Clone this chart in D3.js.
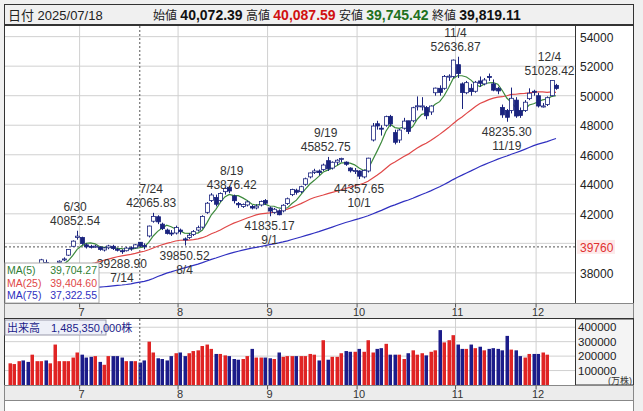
<!DOCTYPE html><html><head><meta charset="utf-8"><script src="https://cdn.jsdelivr.net/npm/d3@7"></script>
<style>body{margin:0;background:#fff}svg{font-family:"Liberation Sans","Noto Sans CJK JP",sans-serif}</style></head><body><svg id="c" width="643" height="411"></svg>
<script>
const months=[["06",16],["07",22],["08",20],["09",20],["10",22],["11",18],["12",5]];
const priorCloses=[37400,37700,38000,37900,38100,37400,37000,36900,36800,37000,37050,37800,37700,37600,37400,37750,37700,37900,37850,37600,37800,37750,37100,37200,37600,37100,36100,35620,35700,35725,34735,33780,31136,33012,31714,34609,33585,33982,34267,33920,34377,34730,34280,34220,35039,35705,35840,36045,36452,36831,36780,36928,37503,37644,38183,38643,38128,37755,37753,37498,37529,37299,37160,36985,37531,37724,37722,38432,37965,37470,37446,37747,37554,37741];
const open=[37900,38150,38300,38350,37900,37900,38450,38600,38700,38400,38300,38700,38900,39200,39800,40400,
40400,39900,39800,39750,39750,39550,39700,39800,39600,39500,39500,39700,39700,40072.39,39850,40500,41500,41800,41300,40900,40700,40700,
40900,40300,40400,40600,40900,41100,42100,42900,43100,42900,43500,43800,43200,42700,42500,42600,42500,42400,42600,42900,
42400,42100,42200,42200,42700,43300,43600,43500,44000,44500,44800,44900,45000,45600,45100,45500,45700,45500,45100,44900,
44900,44500,44900,47000,48100,47800,48000,48600,47500,47000,47800,48300,48300,49300,49300,49200,48900,50200,50500,50500,51300,51300,
52100,50800,50200,50500,50300,51000,50800,51300,50800,50500,49200,49000,49000,49700,49000,49000,49800,50300,
50000,49300,49400,50000,50700];
const high=[38300,38350,38500,38450,38000,38350,38600,38950,38900,38550,38500,38850,39050,39600,40200,40852.54,
40450,40000,39900,39900,39800,39750,39900,39900,39700,39600,39750,39800,39950,40087.59,40000,41200,42065.83,41900,41400,41000,40900,41200,
41000,40400,40700,40900,41200,41900,42800,43400,43300,43450,43800,43876.42,43300,42800,42700,42900,42600,42650,42900,43000,
42500,42400,42300,42650,43100,43700,43700,43900,44450,44800,45050,45000,45400,45852.75,45550,45700,45800,45550,45150,45100,
44950,45000,45800,48150,48300,48000,48650,48700,47700,47750,48500,48300,49250,49950,49900,49300,49350,50550,50700,51400,51450,52450,
52636.87,50900,51000,50800,51000,51300,51200,51500,51100,50600,49400,49100,50550,49900,49200,49700,50500,50400,
50200,49500,49950,51028.42,50800];
const low=[37800,38000,38250,38100,37550,37850,38350,38550,38400,38300,38100,38650,38800,39150,39750,40250,
39900,39650,39650,39700,39500,39450,39600,39550,39450,39288.90,39450,39500,39650,39745.42,39600,40400,41400,41300,40900,40600,40500,40600,
40600,39850.52,40300,40500,40800,41000,42000,42800,42500,42800,43300,43400,42700,42400,42400,42500,42300,42300,42500,42600,
41835.17,42000,41900,42100,42600,43200,43300,43400,43900,44400,44700,44600,44900,44900,45000,45300,45500,45250,44800,44700,
44357.65,44400,44800,46900,47700,47300,47900,47900,46700,46800,47700,47400,48200,49000,49000,48400,48700,50000,50000,50400,51000,51200,
51200,49100,50100,50000,50200,50600,50700,51000,50300,50100,48500,48235.30,48800,48500,48500,48900,49700,50000,
49200,49200,49300,49950,50400];
const close=[38088,38211,38421,38173,37834,38311,38536,38885,38488,38403,38354,38790,38942,39584,40150,40487,
39986,39762,39785,39810,39587,39688,39821,39646,39569,39459,39678,39663,39901,39819.11,39774,41171,41826,41456,40998,40674,40654,41069,
40799,40290,40549,40794,41059,41820,42718,43274,42649,43378,43714,43546,42888,42610,42633,42807,42394,42520,42828,42718,
42188,42310,41938,42580,43018,43643,43459,43837,44372,44768,44902,44790,45303,45045,45493,45630,45754,45354,44913,44932,
44550,44936,45769,47944,47950,47734,48580,48088,46847,47672,48277,47582,49185,49316,49307,48641,49299,50512,50219,51307,51325,52411,
51497,50212,50883,50276,50911,50842,51063,51281,50376,50323,48702,48537,49823,48625,48659,49559,50167,50253,
49303,49303,49864,51028,50491];
const volume=[150,145,165,170,160,210,165,165,170,150,280,165,165,165,190,225,
210,190,195,200,160,140,200,200,200,190,165,165,165,155,170,300,225,185,180,170,200,220,
225,200,220,235,240,270,280,250,215,215,205,200,180,175,180,200,250,190,190,190,
185,180,225,195,200,200,200,200,200,215,210,170,310,175,195,195,220,235,230,230,250,230,
310,225,250,255,285,210,210,210,180,220,240,210,220,205,230,240,380,295,310,345,280,250,
250,280,255,265,240,250,255,250,240,340,245,240,200,190,215,215,215,225,210].map(v=>v*1000);
const annHigh=[[15,"6/30","40852.54"],[32,"7/24","42065.83"],[50,"8/19","43876.42"],[71,"9/19","45852.75"],[100,"11/4","52636.87"],[121,"12/4","51028.42"]];
const annLow=[[25,"7/14","39288.90"],[39,"8/4","39850.52"],[58,"9/1","41835.17"],[78,"10/1","44357.65"],[111,"11/19","48235.30"]];
const priceTicks=[38000,40000,42000,44000,46000,48000,50000,52000,54000];
const volTicks=[100000,200000,300000,400000];
const monthLabels=["7","8","9","10","11","12"];

const svg=d3.select("#c");
const n=close.length;
const x=d3.scaleLinear().domain([0,n-1]).range([10,556]);
const y=d3.scaleLinear().domain([35960,54720]).range([303,26]);
const yv=d3.scaleLinear().domain([0,450000]).range([385,320]);
const all=priorCloses.concat(close);
const ma=(p)=>close.map((c,i)=>{const j=i+priorCloses.length;return d3.mean(all.slice(Math.max(0,j-p+1),j+1));});
const ma5=ma(5),ma25=ma(25),ma75=ma(75);
const mStart=[];let acc=0;months.forEach((m,k)=>{if(k>0)mStart.push(acc);acc+=m[1];});

svg.append("rect").attr("width",643).attr("height",411).attr("fill","#f0f0f0");
svg.append("rect").attr("x",4.5).attr("y",4.5).attr("width",629).attr("height",20).attr("fill","#f0f0f0").attr("stroke","#333");
svg.append("text").attr("x",8).attr("y",20).attr("font-size",13).attr("fill","#222").text("日付 2025/07/18");
const hv=[["始値 ","40,072.39","#111"],[" 高値 ","40,087.59","#d01010"],[" 安値 ","39,745.42","#207020"],[" 終値 ","39,819.11","#111"]];
const h2=svg.append("text").attr("x",153).attr("y",20).attr("font-size",13);
hv.forEach(d=>{h2.append("tspan").attr("fill","#222").attr("font-size",12).text(d[0]);h2.append("tspan").attr("fill",d[2]).attr("font-weight","bold").attr("font-size",14).text(d[1]);});
svg.append("rect").attr("x",4.5).attr("y",25.5).attr("width",629).attr("height",278).attr("fill","#fff").attr("stroke","#333");
const g=svg.append("g");
priceTicks.forEach(t=>g.append("line").attr("x1",5).attr("x2",575).attr("y1",y(t)).attr("y2",y(t)).attr("stroke","#d0d0d0"));
mStart.forEach(i=>g.append("line").attr("x1",x(i)-2).attr("x2",x(i)-2).attr("y1",26).attr("y2",303).attr("stroke","#d0d0d0"));
g.append("line").attr("x1",575.5).attr("x2",575.5).attr("y1",26).attr("y2",303).attr("stroke","#333");
priceTicks.filter(t=>t!==40000).forEach(t=>g.append("text").attr("x",580).attr("y",y(t)+5).attr("font-size",12).attr("fill","#222").text(t));
g.append("line").attr("x1",5).attr("x2",575).attr("y1",y(39760)).attr("y2",y(39760)).attr("stroke","#555").attr("stroke-dasharray","2,2");
g.append("rect").attr("x",577).attr("y",y(39760)-7).attr("width",38).attr("height",14).attr("fill","#fdeaea");
g.append("text").attr("x",580).attr("y",y(39760)+5).attr("font-size",12).attr("fill","#e03030").text("39760");
g.append("line").attr("x1",x(29)).attr("x2",x(29)).attr("y1",26).attr("y2",303).attr("stroke","#555").attr("stroke-dasharray","2,2");
const line=d3.line().x((d,i)=>x(i)).y(d=>y(d));
[[ma75,"#3030c0"],[ma25,"#e04848"],[ma5,"#3d8a3d"]].forEach(([d,c])=>g.append("path").attr("d",line(d)).attr("fill","none").attr("stroke",c).attr("stroke-width",1.2));
close.forEach((c,i)=>{const o=open[i],up=c>=o;const cx=Math.round(x(i))+0.5;
g.append("line").attr("x1",cx).attr("x2",cx).attr("y1",y(high[i])).attr("y2",y(low[i])).attr("stroke","#1a237e");
const t=y(Math.max(o,c)),b=y(Math.min(o,c));
g.append("rect").attr("x",cx-2).attr("y",t).attr("width",4).attr("height",Math.max(1,b-t)).attr("fill",up?"#fff":"#1a237e").attr("stroke","#1a237e").attr("stroke-width",0.8);});
annHigh.forEach(([i,d,v])=>{const yy=y(high[i]);
g.append("text").attr("x",x(i)-2).attr("y",yy-20).attr("text-anchor","middle").attr("font-size",12).attr("fill","#333").text(d);
g.append("text").attr("x",x(i)-2).attr("y",yy-6).attr("text-anchor","middle").attr("font-size",12).attr("fill","#333").text(v);});
annLow.forEach(([i,d,v])=>{const yy=y(low[i]);
g.append("text").attr("x",x(i)).attr("y",yy+14).attr("text-anchor","middle").attr("font-size",12).attr("fill","#333").text(v);
g.append("text").attr("x",x(i)).attr("y",yy+28).attr("text-anchor","middle").attr("font-size",12).attr("fill","#333").text(d);});
g.append("rect").attr("x",5).attr("y",263).attr("width",94).attr("height",40).attr("fill","#fff").attr("stroke","#aaa");
[["MA(5)","39,704.27","#2e7d32"],["MA(25)","39,404.60","#e04848"],["MA(75)","37,322.55","#3030c0"]].forEach((d,k)=>{
g.append("text").attr("x",7).attr("y",274+k*12.5).attr("font-size",10.5).attr("fill",d[2]).text(d[0]);
g.append("text").attr("x",97).attr("y",274+k*12.5).attr("text-anchor","end").attr("font-size",10.5).attr("fill",d[2]).text(d[1]);});
function band(yt){svg.append("rect").attr("x",4.5).attr("y",yt).attr("width",629).attr("height",15).attr("fill","#ececec").attr("stroke","#888");
mStart.forEach((i,k)=>{svg.append("line").attr("x1",x(i)-2).attr("x2",x(i)-2).attr("y1",yt).attr("y2",yt+4).attr("stroke","#555");
svg.append("text").attr("x",x(i)).attr("y",yt+12).attr("text-anchor","middle").attr("font-size",11).attr("fill","#333").text(monthLabels[k]);});}
band(303.5);
svg.append("rect").attr("x",4.5).attr("y",318.5).attr("width",629).attr("height",67).attr("fill","#fff").attr("stroke","#333");
volTicks.forEach(t=>svg.append("line").attr("x1",5).attr("x2",575).attr("y1",yv(t)).attr("y2",yv(t)).attr("stroke","#d0d0d0"));
mStart.forEach(i=>svg.append("line").attr("x1",x(i)-2).attr("x2",x(i)-2).attr("y1",319).attr("y2",385).attr("stroke","#d0d0d0"));
svg.append("rect").attr("x",575.5).attr("y",319).attr("width",58).attr("height",66).attr("fill","#f4f4f4").attr("stroke","#333");
volTicks.forEach(t=>svg.append("text").attr("x",578).attr("y",yv(t)+4).attr("font-size",11.5).attr("fill","#222").text(t));
svg.append("text").attr("x",632).attr("y",384).attr("text-anchor","end").attr("font-size",9).attr("fill","#333").text("(万株)");
volume.forEach((v,i)=>svg.append("rect").attr("x",Math.round(x(i))-1.5).attr("y",yv(v)).attr("width",3.5).attr("height",yv(0)-yv(v)).attr("fill",close[i]>=open[i]?"#e02424":"#1c1c8a"));
svg.append("line").attr("x1",x(29)).attr("x2",x(29)).attr("y1",319).attr("y2",385).attr("stroke","#555").attr("stroke-dasharray","2,2");
svg.append("rect").attr("x",5).attr("y",320).attr("width",101).attr("height",15).attr("fill","#eef0f8").attr("stroke","#99a");
svg.append("text").attr("x",7).attr("y",332).attr("font-size",11).attr("fill","#1c1c8a").text("出来高　1,485,350,000株");
band(385.5);
svg.append("rect").attr("x",4.5).attr("y",400.5).attr("width",629).attr("height",11).attr("fill","#fff").attr("stroke","#888");
</script></body></html>
